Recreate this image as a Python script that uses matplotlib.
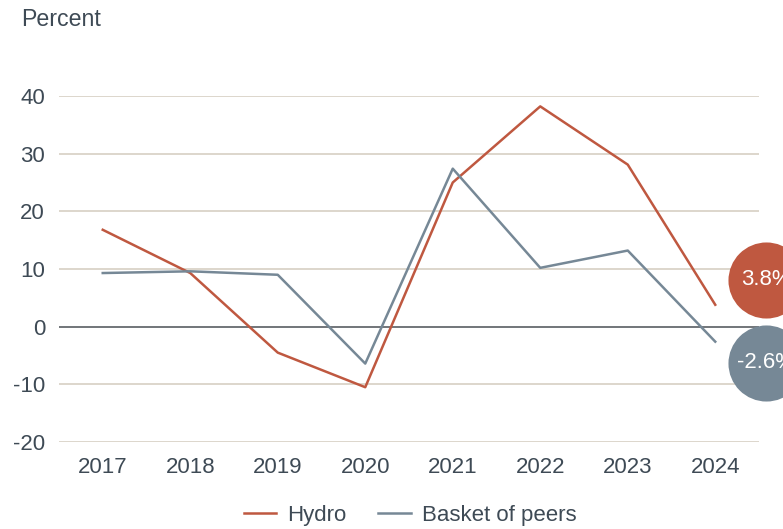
import matplotlib
matplotlib.use("Agg")
import matplotlib.pyplot as plt

years = ["2017", "2018", "2019", "2020", "2021", "2022", "2023", "2024"]
hydro = [16.8, 9.3, -4.5, -10.5, 25.0, 38.2, 28.1, 3.8]
peers = [9.3, 9.6, 9.0, -6.4, 27.4, 10.2, 13.2, -2.6]
yticks = [-20, -10, 0, 10, 20, 30, 40]
hydro_label = "3.8%"
peers_label = "-2.6%"

RED = "#bf5840"
GRAY = "#768896"
GRID = "#d3cbbf"
TEXT = "#3e4a55"
FS = 16

plt.rcParams["font.family"] = ["Liberation Sans", "DejaVu Sans"]

fig = plt.figure(figsize=(7.83, 5.29), dpi=100)
ax = fig.add_axes([59 / 783, (529 - 442) / 529, 700 / 783, (442 - 96) / 529])

x = list(range(len(years)))
ax.set_xlim(-0.5, len(years) - 0.5)
ax.set_ylim(-20, 40)

for t in yticks:
    if t == 0:
        ax.axhline(t, color="#4a4f55", lw=1.1, zorder=1)
    else:
        ax.axhline(t, color=GRID, lw=1.1, zorder=1)

ax.plot(x, hydro, color=RED, lw=1.8, label="Hydro", zorder=3)
ax.plot(x, peers, color=GRAY, lw=1.8, label="Basket of peers", zorder=3)

ax.set_xticks(x)
ax.set_xticklabels(years)
ax.set_yticks(yticks)
ax.set_yticklabels([str(t) for t in yticks])
ax.tick_params(axis="both", length=0, labelsize=FS, colors=TEXT)
ax.tick_params(axis="x", pad=11)
ax.tick_params(axis="y", pad=10)
for s in ax.spines.values():
    s.set_visible(False)

# end-value bubbles
cx = 7.58
ax.scatter([cx], [8.1], s=3000, color=RED, clip_on=False, zorder=5, linewidths=0)
ax.scatter([cx], [-6.3], s=3000, color=GRAY, clip_on=False, zorder=5, linewidths=0)
ax.text(cx, 8.1, hydro_label, color="white", fontsize=FS, ha="center", va="center",
        zorder=6, clip_on=False)
ax.text(cx, -6.3, peers_label, color="white", fontsize=FS, ha="center", va="center",
        zorder=6, clip_on=False)

fig.text(21 / 783, 1 - 20 / 529, "Percent", fontsize=16.7, color=TEXT, ha="left", va="center")

leg = fig.legend(loc="center", bbox_to_anchor=(410 / 783, 1 - 515 / 529), ncol=2,
                 frameon=False, fontsize=FS, handlelength=1.45, columnspacing=1.45,
                 handletextpad=0.5)
for t in leg.get_texts():
    t.set_color(TEXT)

fig.savefig("out.png", dpi=100)
